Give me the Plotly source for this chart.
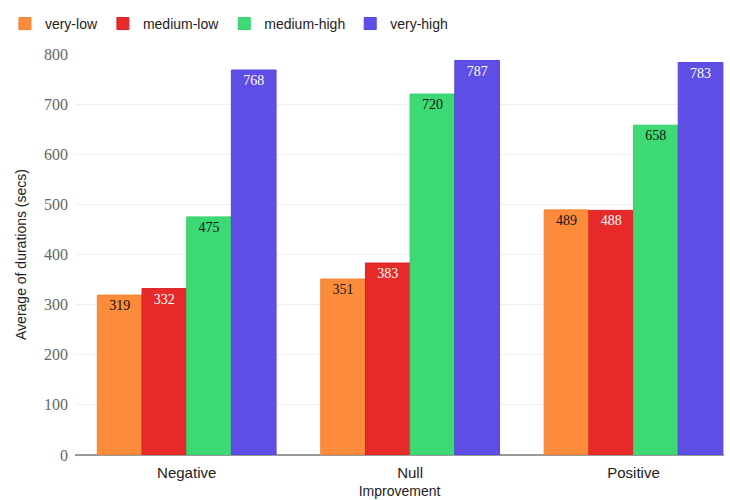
import plotly.graph_objects as go

# Average session duration (seconds) by improvement outcome and activity level
categories = ["Negative", "Null", "Positive"]
levels = ["very-low", "medium-low", "medium-high", "very-high"]
very_low = [319, 351, 489]
medium_low = [332, 383, 488]
medium_high = [475, 720, 658]
very_high = [768, 787, 783]
y_ticks = [0, 100, 200, 300, 400, 500, 600, 700, 800]

series = [very_low, medium_low, medium_high, very_high]
fills = ["#FC8C3C", "#E62A2A", "#3CD974", "#5E4EE6"]
edges = ["#F5812E", "#DA2222", "#34CF6B", "#5546E0"]
label_colors = ["#111111", "#FFFFFF", "#111111", "#FFFFFF"]

fig = go.Figure()
for name, vals, fill, edge, lc in zip(levels, series, fills, edges, label_colors):
    fig.add_trace(go.Bar(
        x=categories,
        y=vals,
        name=name,
        marker=dict(color=fill, line=dict(color=edge, width=1)),
        text=[str(v) for v in vals],
        textposition="inside",
        insidetextanchor="end",
        textangle=0,
        textfont=dict(family="Liberation Serif", size=14, color=lc),
        cliponaxis=False,
    ))

fig.update_layout(
    width=730,
    height=500,
    margin=dict(l=75, r=6, t=54, b=45, autoexpand=False),
    barmode="group",
    bargap=0.2,
    bargroupgap=0,
    plot_bgcolor="white",
    paper_bgcolor="white",
    uniformtext=dict(mode=False),
    legend=dict(
        orientation="h",
        x=-0.108,
        xanchor="left",
        y=1.075,
        yanchor="middle",
        font=dict(family="Liberation Sans", size=14, color="#222222"),
        itemclick=False,
        traceorder="normal",
    ),
    xaxis=dict(
        range=[-0.5, 2.405],
        automargin=False,
        showgrid=False,
        showline=False,
        ticks="",
        ticklabelstandoff=7,
        tickfont=dict(family="Liberation Sans", size=15, color="#222222"),
        title=dict(text="Improvement", font=dict(family="Liberation Sans", size=14, color="#222222"), standoff=6),
    ),
    yaxis=dict(
        range=[0, 800],
        automargin=False,
        tickvals=y_ticks,
        showgrid=True,
        gridcolor="#F0F0F0",
        gridwidth=1,
        zeroline=True,
        zerolinecolor="#9A9A9A",
        zerolinewidth=1.5,
        ticks="",
        ticklabelstandoff=6,
        tickfont=dict(family="Liberation Serif", size=16, color="#666666"),
        title=dict(text="Average of durations (secs)", font=dict(family="Liberation Sans", size=14, color="#222222"), standoff=14),
    ),
)

fig.write_html("out.html")
